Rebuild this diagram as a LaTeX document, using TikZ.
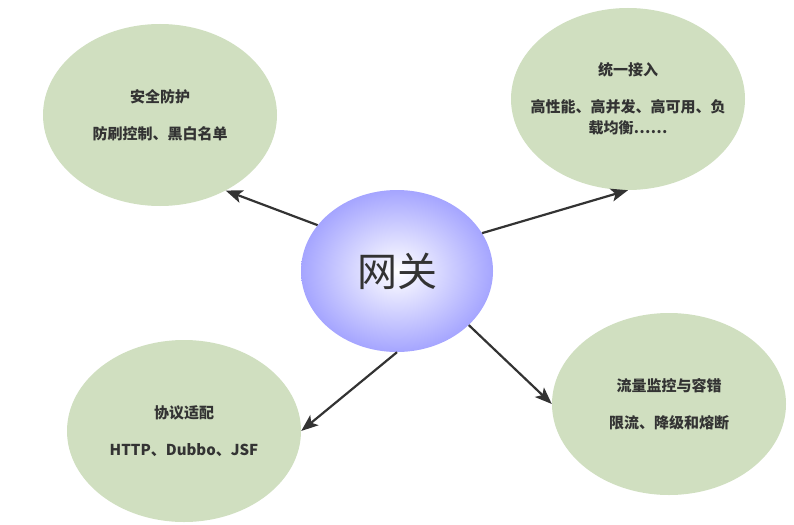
\documentclass[tikz,border=0pt]{standalone}
\usepackage{fontspec}
\setmainfont{Noto Sans CJK SC}
\usetikzlibrary{shapes.geometric,arrows.meta}
\definecolor{leafgreen}{RGB}{208,223,192}
\definecolor{hubblue}{RGB}{165,165,255}
\definecolor{inkgray}{RGB}{51,51,51}

\begin{document}
\begin{tikzpicture}[
    x=1pt, y=-1pt,
    leaf/.style={ellipse, fill=leafgreen, inner xsep=-30pt, inner ysep=0pt, minimum width=234pt, minimum height=182pt,
        text=inkgray, align=center, font=\fontsize{15pt}{21pt}\selectfont\bfseries},
    hub/.style={ellipse, inner color=white, outer color=hubblue, inner sep=0pt,
        minimum width=192pt, minimum height=162pt, text=inkgray, font=\fontsize{40pt}{44pt}\selectfont},
    link/.style={draw=inkgray, line width=2.2pt, -{Stealth[length=17pt,width=13pt,inset=4pt]}}
]
    \useasboundingbox (0,0) rectangle (794,524);

    \node[hub] (gw) at (397,271) {网关};
    \node[leaf] (sec) at (160,115) {安全防护\\[16pt]防刷控制、黑白名单};
    \node[leaf] (access) at (628,99) {统一接入\\[16pt]高性能、高并发、高可用、负\\载均衡……};
    \node[leaf] (proto) at (184,431) {协议适配\\[16pt]HTTP、Dubbo、JSF};
    \node[leaf] (flow) at (669,404) {流量监控与容错\\[16pt]限流、降级和熔断};

    \draw[link] (gw.150) -- (sec.-49);
    \draw[link] (gw.24) -- (access.south);
    \draw[link] (gw.south) -- (proto.east);
    \draw[link] (gw.-37) -- (flow.west);
\end{tikzpicture}
\end{document}
